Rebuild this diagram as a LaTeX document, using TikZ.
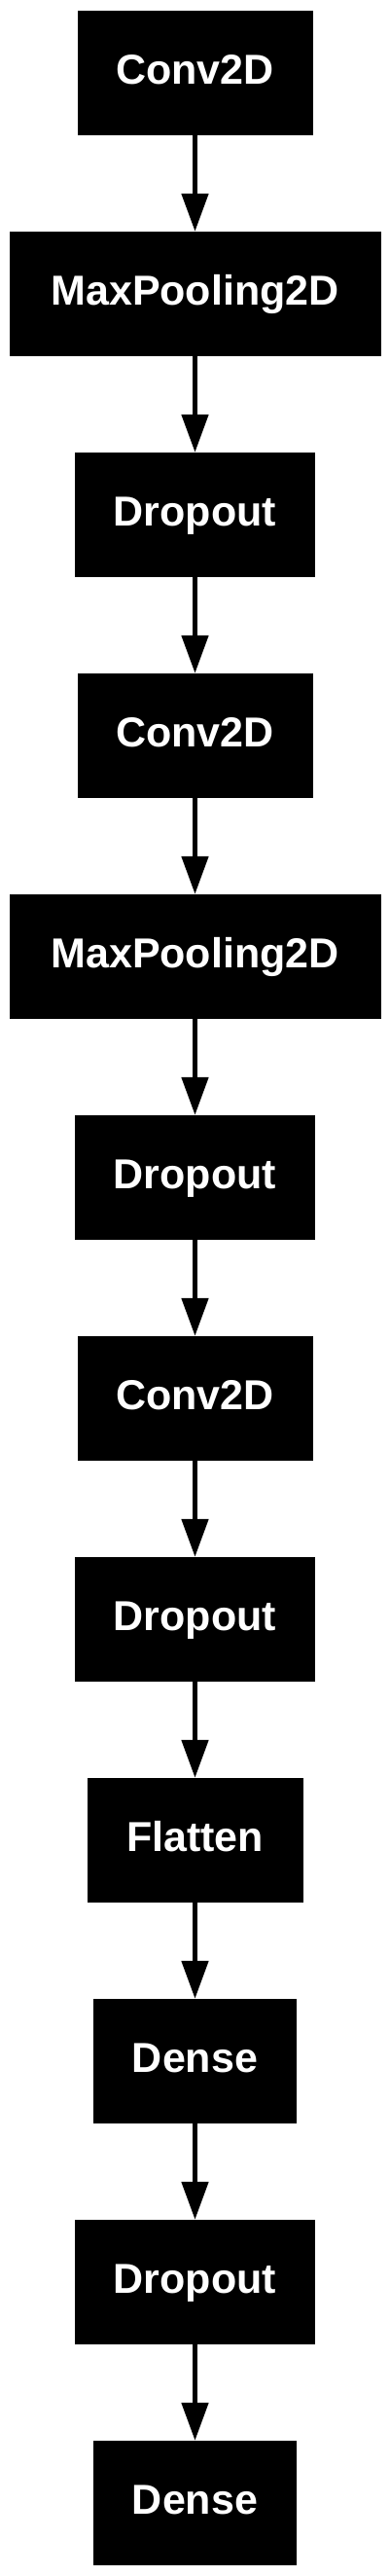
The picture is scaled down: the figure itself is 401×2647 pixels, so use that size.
\documentclass[tikz,border=0pt]{standalone}
\usepackage{fontspec}
\setmainfont{Liberation Sans}
\usetikzlibrary{arrows.meta}

\tikzset{
	layer/.style={rectangle,fill=black,draw=black,text=white,font=\fontsize{43}{43}\selectfont\bfseries,
		minimum height=127pt,inner sep=0pt,text height=31pt,text depth=7pt},
	flow/.style={line width=5pt,-{Triangle[length=39pt,width=27pt]}}
}

\begin{document}
\begin{tikzpicture}[x=1pt,y=1pt]
				\useasboundingbox (0,0) rectangle (401,-2647);
				\node[layer,minimum width=241pt] (conva) at (200.5,-74.5) {Conv2D};
				\node[layer,minimum width=381pt] (poola) at (200.5,-301.5) {MaxPooling2D};
				\node[layer,minimum width=246pt] (dropa) at (200.5,-528.5) {Dropout};
				\node[layer,minimum width=241pt] (convb) at (200.5,-755.5) {Conv2D};
				\node[layer,minimum width=381pt] (poolb) at (200.5,-982.5) {MaxPooling2D};
				\node[layer,minimum width=246pt] (dropb) at (200.5,-1209.5) {Dropout};
				\node[layer,minimum width=241pt] (convc) at (200.5,-1436.5) {Conv2D};
				\node[layer,minimum width=246pt] (dropc) at (200.5,-1663.5) {Dropout};
				\node[layer,minimum width=221pt] (flat) at (200.5,-1890.5) {Flatten};
				\node[layer,minimum width=208pt] (densea) at (200.5,-2117.5) {Dense};
				\node[layer,minimum width=246pt] (dropd) at (200.5,-2344.5) {Dropout};
				\node[layer,minimum width=208pt] (denseb) at (200.5,-2571.5) {Dense};
				\draw[flow] (conva) -- (poola);
				\draw[flow] (poola) -- (dropa);
				\draw[flow] (dropa) -- (convb);
				\draw[flow] (convb) -- (poolb);
				\draw[flow] (poolb) -- (dropb);
				\draw[flow] (dropb) -- (convc);
				\draw[flow] (convc) -- (dropc);
				\draw[flow] (dropc) -- (flat);
				\draw[flow] (flat) -- (densea);
				\draw[flow] (densea) -- (dropd);
				\draw[flow] (dropd) -- (denseb);
			\end{tikzpicture}
\end{document}
